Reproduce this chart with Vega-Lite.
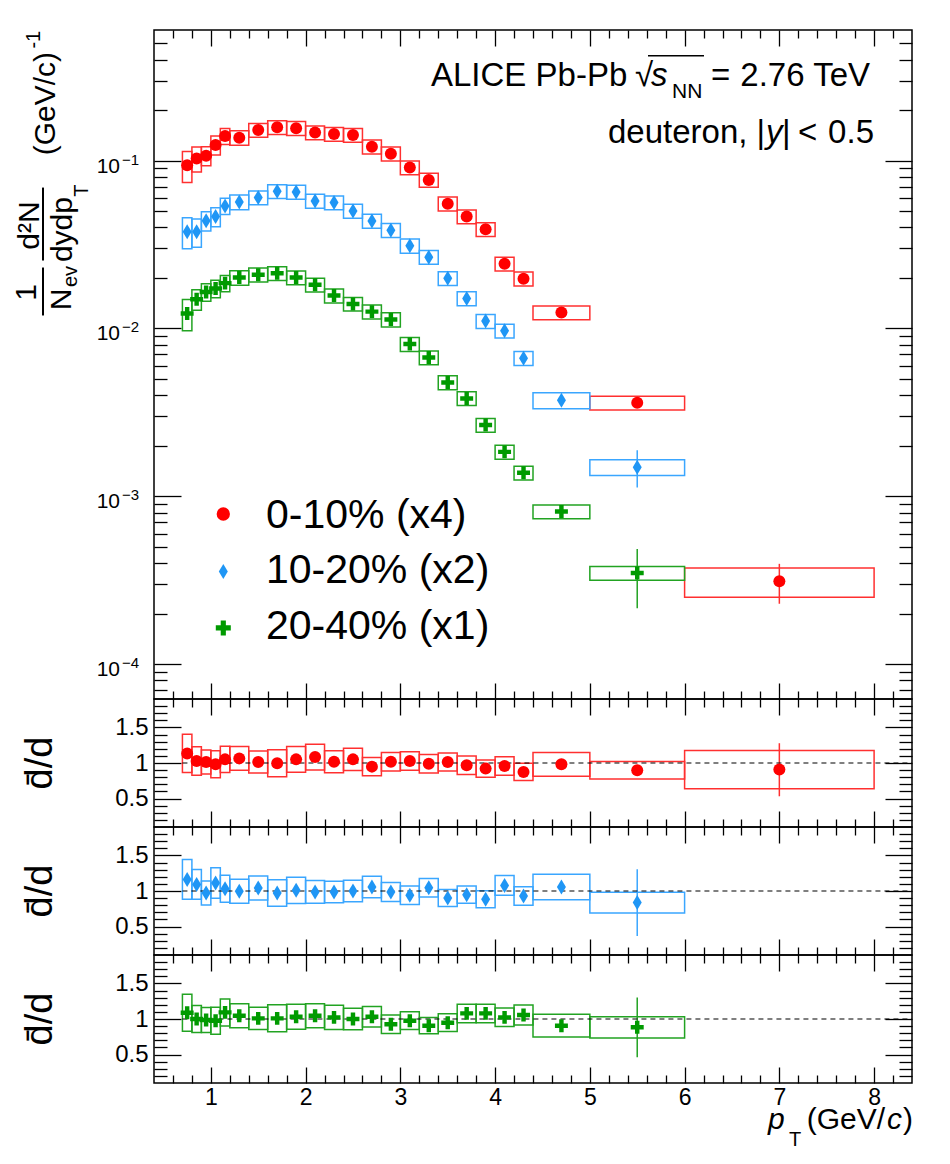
{
  "$schema": "https://vega.github.io/schema/vega-lite/v6.json",
  "background": "white",
  "padding": {"left": 11, "top": 28, "right": 5, "bottom": 5},
  "autosize": {"type": "pad"},
  "config": {
    "font": "Liberation Sans",
    "view": {"stroke": "black", "strokeWidth": 1.5},
    "axis": {"grid": false, "domain": false, "tickColor": "black", "tickWidth": 1.3, "labelColor": "black", "labelFont": "Liberation Sans", "zindex": 1},
    "text": {"font": "Liberation Sans", "color": "black"}
  },
  "datasets": {
    "decades": [
      {"v": 0.1, "e": "−1"},
      {"v": 0.01, "e": "−2"},
      {"v": 0.001, "e": "−3"},
      {"v": 0.0001, "e": "−4"}
    ],
    "spec": [
      {"c": "0-10% (x4)", "x": 0.75, "xl": 0.7, "xh": 0.8, "y": 0.0937, "yl": 0.0740, "yh": 0.1134},
      {"c": "0-10% (x4)", "x": 0.85, "xl": 0.8, "xh": 0.9, "y": 0.103, "yl": 0.0855, "yh": 0.1205},
      {"c": "0-10% (x4)", "x": 0.95, "xl": 0.9, "xh": 1.0, "y": 0.107, "yl": 0.0931, "yh": 0.1209},
      {"c": "0-10% (x4)", "x": 1.05, "xl": 1.0, "xh": 1.1, "y": 0.124, "yl": 0.1079, "yh": 0.1401},
      {"c": "0-10% (x4)", "x": 1.15, "xl": 1.1, "xh": 1.2, "y": 0.140, "yl": 0.1246, "yh": 0.1554},
      {"c": "0-10% (x4)", "x": 1.3, "xl": 1.2, "xh": 1.4, "y": 0.137, "yl": 0.1233, "yh": 0.1507},
      {"c": "0-10% (x4)", "x": 1.5, "xl": 1.4, "xh": 1.6, "y": 0.152, "yl": 0.1376, "yh": 0.1664},
      {"c": "0-10% (x4)", "x": 1.7, "xl": 1.6, "xh": 1.8, "y": 0.158, "yl": 0.1430, "yh": 0.1730},
      {"c": "0-10% (x4)", "x": 1.9, "xl": 1.8, "xh": 2.0, "y": 0.156, "yl": 0.1412, "yh": 0.1708},
      {"c": "0-10% (x4)", "x": 2.1, "xl": 2.0, "xh": 2.2, "y": 0.147, "yl": 0.1330, "yh": 0.1610},
      {"c": "0-10% (x4)", "x": 2.3, "xl": 2.2, "xh": 2.4, "y": 0.144, "yl": 0.1303, "yh": 0.1577},
      {"c": "0-10% (x4)", "x": 2.5, "xl": 2.4, "xh": 2.6, "y": 0.142, "yl": 0.1285, "yh": 0.1555},
      {"c": "0-10% (x4)", "x": 2.7, "xl": 2.6, "xh": 2.8, "y": 0.121, "yl": 0.1095, "yh": 0.1325},
      {"c": "0-10% (x4)", "x": 2.9, "xl": 2.8, "xh": 3.0, "y": 0.110, "yl": 0.0996, "yh": 0.1205},
      {"c": "0-10% (x4)", "x": 3.1, "xl": 3.0, "xh": 3.2, "y": 0.0909, "yl": 0.0823, "yh": 0.0995},
      {"c": "0-10% (x4)", "x": 3.3, "xl": 3.2, "xh": 3.4, "y": 0.0767, "yl": 0.0694, "yh": 0.0840},
      {"c": "0-10% (x4)", "x": 3.5, "xl": 3.4, "xh": 3.6, "y": 0.0554, "yl": 0.0501, "yh": 0.0607},
      {"c": "0-10% (x4)", "x": 3.7, "xl": 3.6, "xh": 3.8, "y": 0.0464, "yl": 0.0420, "yh": 0.0508},
      {"c": "0-10% (x4)", "x": 3.9, "xl": 3.8, "xh": 4.0, "y": 0.0390, "yl": 0.0353, "yh": 0.0427},
      {"c": "0-10% (x4)", "x": 4.1, "xl": 4.0, "xh": 4.2, "y": 0.0243, "yl": 0.0220, "yh": 0.0266},
      {"c": "0-10% (x4)", "x": 4.3, "xl": 4.2, "xh": 4.4, "y": 0.0198, "yl": 0.0179, "yh": 0.0217},
      {"c": "0-10% (x4)", "x": 4.7, "xl": 4.4, "xh": 5.0, "y": 0.01245, "yl": 0.01127, "yh": 0.01363},
      {"c": "0-10% (x4)", "x": 5.5, "xl": 5.0, "xh": 6.0, "y": 0.00361, "yl": 0.00327, "yh": 0.00395},
      {"c": "0-10% (x4)", "x": 7.0, "xl": 6.0, "xh": 8.0, "y": 0.000312, "yl": 0.000250, "yh": 0.000374},
      {"c": "10-20% (x2)", "x": 0.75, "xl": 0.7, "xh": 0.8, "y": 0.0377, "yl": 0.0298, "yh": 0.0456},
      {"c": "10-20% (x2)", "x": 0.85, "xl": 0.8, "xh": 0.9, "y": 0.0377, "yl": 0.0305, "yh": 0.0449},
      {"c": "10-20% (x2)", "x": 0.95, "xl": 0.9, "xh": 1.0, "y": 0.0438, "yl": 0.0381, "yh": 0.0495},
      {"c": "10-20% (x2)", "x": 1.05, "xl": 1.0, "xh": 1.1, "y": 0.0464, "yl": 0.0404, "yh": 0.0524},
      {"c": "10-20% (x2)", "x": 1.15, "xl": 1.1, "xh": 1.2, "y": 0.0537, "yl": 0.0478, "yh": 0.0596},
      {"c": "10-20% (x2)", "x": 1.3, "xl": 1.2, "xh": 1.4, "y": 0.0567, "yl": 0.0510, "yh": 0.0624},
      {"c": "10-20% (x2)", "x": 1.5, "xl": 1.4, "xh": 1.6, "y": 0.0602, "yl": 0.0545, "yh": 0.0659},
      {"c": "10-20% (x2)", "x": 1.7, "xl": 1.6, "xh": 1.8, "y": 0.0656, "yl": 0.0594, "yh": 0.0718},
      {"c": "10-20% (x2)", "x": 1.9, "xl": 1.8, "xh": 2.0, "y": 0.0651, "yl": 0.0589, "yh": 0.0713},
      {"c": "10-20% (x2)", "x": 2.1, "xl": 2.0, "xh": 2.2, "y": 0.0575, "yl": 0.0520, "yh": 0.0630},
      {"c": "10-20% (x2)", "x": 2.3, "xl": 2.2, "xh": 2.4, "y": 0.0562, "yl": 0.0509, "yh": 0.0615},
      {"c": "10-20% (x2)", "x": 2.5, "xl": 2.4, "xh": 2.6, "y": 0.0501, "yl": 0.0453, "yh": 0.0549},
      {"c": "10-20% (x2)", "x": 2.7, "xl": 2.6, "xh": 2.8, "y": 0.0437, "yl": 0.0395, "yh": 0.0479},
      {"c": "10-20% (x2)", "x": 2.9, "xl": 2.8, "xh": 3.0, "y": 0.0385, "yl": 0.0348, "yh": 0.0422},
      {"c": "10-20% (x2)", "x": 3.1, "xl": 3.0, "xh": 3.2, "y": 0.0311, "yl": 0.0281, "yh": 0.0341},
      {"c": "10-20% (x2)", "x": 3.3, "xl": 3.2, "xh": 3.4, "y": 0.0266, "yl": 0.0241, "yh": 0.0291},
      {"c": "10-20% (x2)", "x": 3.5, "xl": 3.4, "xh": 3.6, "y": 0.0199, "yl": 0.0180, "yh": 0.0218},
      {"c": "10-20% (x2)", "x": 3.7, "xl": 3.6, "xh": 3.8, "y": 0.0151, "yl": 0.01367, "yh": 0.01653},
      {"c": "10-20% (x2)", "x": 3.9, "xl": 3.8, "xh": 4.0, "y": 0.01106, "yl": 0.01001, "yh": 0.01211},
      {"c": "10-20% (x2)", "x": 4.1, "xl": 4.0, "xh": 4.2, "y": 0.00969, "yl": 0.00877, "yh": 0.01061},
      {"c": "10-20% (x2)", "x": 4.3, "xl": 4.2, "xh": 4.4, "y": 0.00665, "yl": 0.00602, "yh": 0.00728},
      {"c": "10-20% (x2)", "x": 4.7, "xl": 4.4, "xh": 5.0, "y": 0.00373, "yl": 0.00332, "yh": 0.00414},
      {"c": "10-20% (x2)", "x": 5.5, "xl": 5.0, "xh": 6.0, "y": 0.00149, "yl": 0.00133, "yh": 0.00165},
      {"c": "20-40% (x1)", "x": 0.75, "xl": 0.7, "xh": 0.8, "y": 0.01228, "yl": 0.00970, "yh": 0.01486},
      {"c": "20-40% (x1)", "x": 0.85, "xl": 0.8, "xh": 0.9, "y": 0.01493, "yl": 0.01284, "yh": 0.01702},
      {"c": "20-40% (x1)", "x": 0.95, "xl": 0.9, "xh": 1.0, "y": 0.01651, "yl": 0.01453, "yh": 0.01849},
      {"c": "20-40% (x1)", "x": 1.05, "xl": 1.0, "xh": 1.1, "y": 0.0173, "yl": 0.01522, "yh": 0.01938},
      {"c": "20-40% (x1)", "x": 1.15, "xl": 1.1, "xh": 1.2, "y": 0.01862, "yl": 0.01657, "yh": 0.02067},
      {"c": "20-40% (x1)", "x": 1.3, "xl": 1.2, "xh": 1.4, "y": 0.0201, "yl": 0.0181, "yh": 0.0221},
      {"c": "20-40% (x1)", "x": 1.5, "xl": 1.4, "xh": 1.6, "y": 0.0209, "yl": 0.0189, "yh": 0.0229},
      {"c": "20-40% (x1)", "x": 1.7, "xl": 1.6, "xh": 1.8, "y": 0.0213, "yl": 0.0193, "yh": 0.0233},
      {"c": "20-40% (x1)", "x": 1.9, "xl": 1.8, "xh": 2.0, "y": 0.0201, "yl": 0.0182, "yh": 0.0220},
      {"c": "20-40% (x1)", "x": 2.1, "xl": 2.0, "xh": 2.2, "y": 0.0182, "yl": 0.0165, "yh": 0.0199},
      {"c": "20-40% (x1)", "x": 2.3, "xl": 2.2, "xh": 2.4, "y": 0.0157, "yl": 0.0142, "yh": 0.0172},
      {"c": "20-40% (x1)", "x": 2.5, "xl": 2.4, "xh": 2.6, "y": 0.0140, "yl": 0.0127, "yh": 0.0153},
      {"c": "20-40% (x1)", "x": 2.7, "xl": 2.6, "xh": 2.8, "y": 0.0126, "yl": 0.0114, "yh": 0.0138},
      {"c": "20-40% (x1)", "x": 2.9, "xl": 2.8, "xh": 3.0, "y": 0.0113, "yl": 0.0102, "yh": 0.0124},
      {"c": "20-40% (x1)", "x": 3.1, "xl": 3.0, "xh": 3.2, "y": 0.00807, "yl": 0.00730, "yh": 0.00884},
      {"c": "20-40% (x1)", "x": 3.3, "xl": 3.2, "xh": 3.4, "y": 0.00671, "yl": 0.00607, "yh": 0.00735},
      {"c": "20-40% (x1)", "x": 3.5, "xl": 3.4, "xh": 3.6, "y": 0.00477, "yl": 0.00432, "yh": 0.00522},
      {"c": "20-40% (x1)", "x": 3.7, "xl": 3.6, "xh": 3.8, "y": 0.00383, "yl": 0.00347, "yh": 0.00419},
      {"c": "20-40% (x1)", "x": 3.9, "xl": 3.8, "xh": 4.0, "y": 0.00266, "yl": 0.00241, "yh": 0.00291},
      {"c": "20-40% (x1)", "x": 4.1, "xl": 4.0, "xh": 4.2, "y": 0.00184, "yl": 0.001665, "yh": 0.002015},
      {"c": "20-40% (x1)", "x": 4.3, "xl": 4.2, "xh": 4.4, "y": 0.00138, "yl": 0.00125, "yh": 0.00151},
      {"c": "20-40% (x1)", "x": 4.7, "xl": 4.4, "xh": 5.0, "y": 0.000811, "yl": 0.000734, "yh": 0.000888},
      {"c": "20-40% (x1)", "x": 5.5, "xl": 5.0, "xh": 6.0, "y": 0.000349, "yl": 0.000316, "yh": 0.000382}
    ],
    "stat": [
      {"c": "0-10% (x4)", "x": 7.0, "lo": 0.000229, "hi": 0.000396},
      {"c": "10-20% (x2)", "x": 5.5, "lo": 0.00113, "hi": 0.00188},
      {"c": "20-40% (x1)", "x": 5.5, "lo": 0.000215, "hi": 0.000485}
    ],
    "ratio": [
      {"c": "0-10% (x4)", "x": 0.75, "xl": 0.7, "xh": 0.8, "y": 1.135, "yl": 0.865, "yh": 1.405},
      {"c": "0-10% (x4)", "x": 0.85, "xl": 0.8, "xh": 0.9, "y": 1.028, "yl": 0.828, "yh": 1.228},
      {"c": "0-10% (x4)", "x": 0.95, "xl": 0.9, "xh": 1.0, "y": 1.014, "yl": 0.844, "yh": 1.184},
      {"c": "0-10% (x4)", "x": 1.05, "xl": 1.0, "xh": 1.1, "y": 0.981, "yl": 0.791, "yh": 1.171},
      {"c": "0-10% (x4)", "x": 1.15, "xl": 1.1, "xh": 1.2, "y": 1.051, "yl": 0.866, "yh": 1.236},
      {"c": "0-10% (x4)", "x": 1.3, "xl": 1.2, "xh": 1.4, "y": 1.065, "yl": 0.898, "yh": 1.232},
      {"c": "0-10% (x4)", "x": 1.5, "xl": 1.4, "xh": 1.6, "y": 1.014, "yl": 0.859, "yh": 1.169},
      {"c": "0-10% (x4)", "x": 1.7, "xl": 1.6, "xh": 1.8, "y": 0.995, "yl": 0.805, "yh": 1.185},
      {"c": "0-10% (x4)", "x": 1.9, "xl": 1.8, "xh": 2.0, "y": 1.051, "yl": 0.871, "yh": 1.231},
      {"c": "0-10% (x4)", "x": 2.1, "xl": 2.0, "xh": 2.2, "y": 1.083, "yl": 0.903, "yh": 1.263},
      {"c": "0-10% (x4)", "x": 2.3, "xl": 2.2, "xh": 2.4, "y": 1.019, "yl": 0.864, "yh": 1.174},
      {"c": "0-10% (x4)", "x": 2.5, "xl": 2.4, "xh": 2.6, "y": 1.051, "yl": 0.896, "yh": 1.206},
      {"c": "0-10% (x4)", "x": 2.7, "xl": 2.6, "xh": 2.8, "y": 0.949, "yl": 0.819, "yh": 1.079},
      {"c": "0-10% (x4)", "x": 2.9, "xl": 2.8, "xh": 3.0, "y": 1.019, "yl": 0.889, "yh": 1.149},
      {"c": "0-10% (x4)", "x": 3.1, "xl": 3.0, "xh": 3.2, "y": 1.028, "yl": 0.898, "yh": 1.158},
      {"c": "0-10% (x4)", "x": 3.3, "xl": 3.2, "xh": 3.4, "y": 0.991, "yl": 0.861, "yh": 1.121},
      {"c": "0-10% (x4)", "x": 3.5, "xl": 3.4, "xh": 3.6, "y": 1.014, "yl": 0.889, "yh": 1.139},
      {"c": "0-10% (x4)", "x": 3.7, "xl": 3.6, "xh": 3.8, "y": 0.968, "yl": 0.838, "yh": 1.098},
      {"c": "0-10% (x4)", "x": 3.9, "xl": 3.8, "xh": 4.0, "y": 0.921, "yl": 0.801, "yh": 1.041},
      {"c": "0-10% (x4)", "x": 4.1, "xl": 4.0, "xh": 4.2, "y": 0.958, "yl": 0.828, "yh": 1.088},
      {"c": "0-10% (x4)", "x": 4.3, "xl": 4.2, "xh": 4.4, "y": 0.875, "yl": 0.755, "yh": 0.995},
      {"c": "0-10% (x4)", "x": 4.7, "xl": 4.4, "xh": 5.0, "y": 0.981, "yl": 0.814, "yh": 1.148},
      {"c": "0-10% (x4)", "x": 5.5, "xl": 5.0, "xh": 6.0, "y": 0.898, "yl": 0.775, "yh": 1.021},
      {"c": "0-10% (x4)", "x": 7.0, "xl": 6.0, "xh": 8.0, "y": 0.907, "yl": 0.637, "yh": 1.177},
      {"c": "10-20% (x2)", "x": 0.75, "xl": 0.7, "xh": 0.8, "y": 1.163, "yl": 0.883, "yh": 1.443},
      {"c": "10-20% (x2)", "x": 0.85, "xl": 0.8, "xh": 0.9, "y": 1.093, "yl": 0.883, "yh": 1.303},
      {"c": "10-20% (x2)", "x": 0.95, "xl": 0.9, "xh": 1.0, "y": 0.972, "yl": 0.802, "yh": 1.142},
      {"c": "10-20% (x2)", "x": 1.05, "xl": 1.0, "xh": 1.1, "y": 1.112, "yl": 0.897, "yh": 1.327},
      {"c": "10-20% (x2)", "x": 1.15, "xl": 1.1, "xh": 1.2, "y": 1.032, "yl": 0.842, "yh": 1.222},
      {"c": "10-20% (x2)", "x": 1.3, "xl": 1.2, "xh": 1.4, "y": 0.996, "yl": 0.826, "yh": 1.166},
      {"c": "10-20% (x2)", "x": 1.5, "xl": 1.4, "xh": 1.6, "y": 1.042, "yl": 0.872, "yh": 1.212},
      {"c": "10-20% (x2)", "x": 1.7, "xl": 1.6, "xh": 1.8, "y": 0.972, "yl": 0.787, "yh": 1.157},
      {"c": "10-20% (x2)", "x": 1.9, "xl": 1.8, "xh": 2.0, "y": 1.009, "yl": 0.824, "yh": 1.194},
      {"c": "10-20% (x2)", "x": 2.1, "xl": 2.0, "xh": 2.2, "y": 0.986, "yl": 0.826, "yh": 1.146},
      {"c": "10-20% (x2)", "x": 2.3, "xl": 2.2, "xh": 2.4, "y": 0.986, "yl": 0.836, "yh": 1.136},
      {"c": "10-20% (x2)", "x": 2.5, "xl": 2.4, "xh": 2.6, "y": 1.0, "yl": 0.85, "yh": 1.15},
      {"c": "10-20% (x2)", "x": 2.7, "xl": 2.6, "xh": 2.8, "y": 1.056, "yl": 0.906, "yh": 1.206},
      {"c": "10-20% (x2)", "x": 2.9, "xl": 2.8, "xh": 3.0, "y": 0.986, "yl": 0.851, "yh": 1.121},
      {"c": "10-20% (x2)", "x": 3.1, "xl": 3.0, "xh": 3.2, "y": 0.940, "yl": 0.810, "yh": 1.070},
      {"c": "10-20% (x2)", "x": 3.3, "xl": 3.2, "xh": 3.4, "y": 1.046, "yl": 0.916, "yh": 1.176},
      {"c": "10-20% (x2)", "x": 3.5, "xl": 3.4, "xh": 3.6, "y": 0.902, "yl": 0.782, "yh": 1.022},
      {"c": "10-20% (x2)", "x": 3.7, "xl": 3.6, "xh": 3.8, "y": 0.949, "yl": 0.829, "yh": 1.069},
      {"c": "10-20% (x2)", "x": 3.9, "xl": 3.8, "xh": 4.0, "y": 0.884, "yl": 0.764, "yh": 1.004},
      {"c": "10-20% (x2)", "x": 4.1, "xl": 4.0, "xh": 4.2, "y": 1.079, "yl": 0.939, "yh": 1.219},
      {"c": "10-20% (x2)", "x": 4.3, "xl": 4.2, "xh": 4.4, "y": 0.930, "yl": 0.800, "yh": 1.060},
      {"c": "10-20% (x2)", "x": 4.7, "xl": 4.4, "xh": 5.0, "y": 1.056, "yl": 0.876, "yh": 1.236},
      {"c": "10-20% (x2)", "x": 5.5, "xl": 5.0, "xh": 6.0, "y": 0.837, "yl": 0.692, "yh": 0.982},
      {"c": "20-40% (x1)", "x": 0.75, "xl": 0.7, "xh": 0.8, "y": 1.088, "yl": 0.828, "yh": 1.348},
      {"c": "20-40% (x1)", "x": 0.85, "xl": 0.8, "xh": 0.9, "y": 1.0, "yl": 0.81, "yh": 1.19},
      {"c": "20-40% (x1)", "x": 0.95, "xl": 0.9, "xh": 1.0, "y": 0.986, "yl": 0.811, "yh": 1.161},
      {"c": "20-40% (x1)", "x": 1.05, "xl": 1.0, "xh": 1.1, "y": 0.976, "yl": 0.786, "yh": 1.166},
      {"c": "20-40% (x1)", "x": 1.15, "xl": 1.1, "xh": 1.2, "y": 1.093, "yl": 0.903, "yh": 1.283},
      {"c": "20-40% (x1)", "x": 1.3, "xl": 1.2, "xh": 1.4, "y": 1.046, "yl": 0.876, "yh": 1.216},
      {"c": "20-40% (x1)", "x": 1.5, "xl": 1.4, "xh": 1.6, "y": 1.009, "yl": 0.854, "yh": 1.164},
      {"c": "20-40% (x1)", "x": 1.7, "xl": 1.6, "xh": 1.8, "y": 1.009, "yl": 0.819, "yh": 1.199},
      {"c": "20-40% (x1)", "x": 1.9, "xl": 1.8, "xh": 2.0, "y": 1.032, "yl": 0.857, "yh": 1.207},
      {"c": "20-40% (x1)", "x": 2.1, "xl": 2.0, "xh": 2.2, "y": 1.046, "yl": 0.876, "yh": 1.216},
      {"c": "20-40% (x1)", "x": 2.3, "xl": 2.2, "xh": 2.4, "y": 1.023, "yl": 0.853, "yh": 1.193},
      {"c": "20-40% (x1)", "x": 2.5, "xl": 2.4, "xh": 2.6, "y": 1.0, "yl": 0.85, "yh": 1.15},
      {"c": "20-40% (x1)", "x": 2.7, "xl": 2.6, "xh": 2.8, "y": 1.032, "yl": 0.887, "yh": 1.177},
      {"c": "20-40% (x1)", "x": 2.9, "xl": 2.8, "xh": 3.0, "y": 0.925, "yl": 0.795, "yh": 1.055},
      {"c": "20-40% (x1)", "x": 3.1, "xl": 3.0, "xh": 3.2, "y": 0.976, "yl": 0.851, "yh": 1.101},
      {"c": "20-40% (x1)", "x": 3.3, "xl": 3.2, "xh": 3.4, "y": 0.906, "yl": 0.791, "yh": 1.021},
      {"c": "20-40% (x1)", "x": 3.5, "xl": 3.4, "xh": 3.6, "y": 0.948, "yl": 0.823, "yh": 1.073},
      {"c": "20-40% (x1)", "x": 3.7, "xl": 3.6, "xh": 3.8, "y": 1.079, "yl": 0.949, "yh": 1.209},
      {"c": "20-40% (x1)", "x": 3.9, "xl": 3.8, "xh": 4.0, "y": 1.079, "yl": 0.949, "yh": 1.209},
      {"c": "20-40% (x1)", "x": 4.1, "xl": 4.0, "xh": 4.2, "y": 1.023, "yl": 0.893, "yh": 1.153},
      {"c": "20-40% (x1)", "x": 4.3, "xl": 4.2, "xh": 4.4, "y": 1.056, "yl": 0.916, "yh": 1.196},
      {"c": "20-40% (x1)", "x": 4.7, "xl": 4.4, "xh": 5.0, "y": 0.906, "yl": 0.746, "yh": 1.066},
      {"c": "20-40% (x1)", "x": 5.5, "xl": 5.0, "xh": 6.0, "y": 0.883, "yl": 0.733, "yh": 1.033}
    ],
    "rstat": [
      {"c": "0-10% (x4)", "x": 7.0, "lo": 0.532, "hi": 1.278},
      {"c": "10-20% (x2)", "x": 5.5, "lo": 0.367, "hi": 1.307},
      {"c": "20-40% (x1)", "x": 5.5, "lo": 0.463, "hi": 1.303}
    ]
  },
  "vconcat": [
    {
      "width": 758,
      "height": 669,
      "resolve": {"axis": {"x": "independent", "y": "independent"}},
      "layer": [
        {
          "data": {"name": "spec"},
          "mark": {"type": "rect", "filled": false, "strokeWidth": 1.5},
          "encoding": {
            "x": {"field": "xl", "type": "quantitative", "scale": {"domain": [0.4, 8.4], "nice": false, "zero": false},
                  "axis": {"orient": "bottom", "values": [1, 2, 3, 4, 5, 6, 7, 8], "tickSize": -16, "labels": false, "title": null}},
            "x2": {"field": "xh"},
            "y": {"field": "yl", "type": "quantitative", "scale": {"type": "log", "domain": [0.000062, 0.6], "nice": false},
                  "axis": {"orient": "left", "values": [0.0001, 0.001, 0.01, 0.1], "tickSize": -27, "labels": false, "title": null}},
            "y2": {"field": "yh"},
            "stroke": {"field": "c", "type": "nominal", "scale": {"domain": ["0-10% (x4)", "10-20% (x2)", "20-40% (x1)"], "range": ["#ff3030", "#3aa6ff", "#22a322"]}, "legend": null}
          }
        },
        {
          "data": {"name": "stat"},
          "mark": {"type": "rule", "strokeWidth": 1.5},
          "encoding": {
            "x": {"field": "x", "type": "quantitative", "scale": {"domain": [0.4, 8.4], "nice": false, "zero": false},
                  "axis": {"orient": "bottom", "values": [0.6, 0.8, 1.2, 1.4, 1.6, 1.8, 2.2, 2.4, 2.6, 2.8, 3.2, 3.4, 3.6, 3.8, 4.2, 4.4, 4.6, 4.8, 5.2, 5.4, 5.6, 5.8, 6.2, 6.4, 6.6, 6.8, 7.2, 7.4, 7.6, 7.8, 8.2], "tickSize": -8, "labels": false, "title": null}},
            "y": {"field": "lo", "type": "quantitative", "scale": {"type": "log", "domain": [0.000062, 0.6], "nice": false},
                  "axis": {"orient": "left", "values": [0.00007, 0.00008, 0.00009, 0.0002, 0.0003, 0.0004, 0.0005, 0.0006, 0.0007, 0.0008, 0.0009, 0.002, 0.003, 0.004, 0.005, 0.006, 0.007, 0.008, 0.009, 0.02, 0.03, 0.04, 0.05, 0.06, 0.07, 0.08, 0.09, 0.2, 0.3, 0.4, 0.5], "tickSize": -13, "labels": false, "title": null}},
            "y2": {"field": "hi"},
            "stroke": {"field": "c", "type": "nominal", "scale": {"domain": ["0-10% (x4)", "10-20% (x2)", "20-40% (x1)"], "range": ["#ff3030", "#3aa6ff", "#22a322"]}, "legend": null}
          }
        },
        {
          "data": {"name": "spec"},
          "mark": {"type": "point", "filled": true, "opacity": 1, "size": 144, "strokeWidth": 0},
          "encoding": {
            "x": {"field": "x", "type": "quantitative", "scale": {"domain": [0.4, 8.4], "nice": false, "zero": false},
                  "axis": {"orient": "top", "values": [1, 2, 3, 4, 5, 6, 7, 8], "tickSize": -16, "labels": false, "title": null}},
            "y": {"field": "y", "type": "quantitative", "scale": {"type": "log", "domain": [0.000062, 0.6], "nice": false},
                  "axis": {"orient": "right", "values": [0.0001, 0.001, 0.01, 0.1], "tickSize": -27, "labels": false, "title": null}},
            "color": {"field": "c", "type": "nominal", "scale": {"domain": ["0-10% (x4)", "10-20% (x2)", "20-40% (x1)"], "range": ["#ff0000", "#1f96f5", "#009a00"]}, "legend": null},
            "shape": {"field": "c", "type": "nominal", "scale": {"domain": ["0-10% (x4)", "10-20% (x2)", "20-40% (x1)"], "range": ["circle", "M0,-1.25L0.75,0L0,1.25L-0.75,0Z", "M-0.37,-1.08H0.37V-0.37H1.08V0.37H0.37V1.08H-0.37V0.37H-1.08V-0.37H-0.37Z"]}, "legend": null}
          }
        },
        {
          "data": {"values": [{}]},
          "mark": {"type": "rule", "strokeWidth": 2, "color": "black"},
          "encoding": {
            "x": {"datum": -0.7715, "type": "quantitative", "scale": {"domain": [0.4, 8.4], "nice": false, "zero": false},
                  "axis": {"orient": "top", "values": [0.6, 0.8, 1.2, 1.4, 1.6, 1.8, 2.2, 2.4, 2.6, 2.8, 3.2, 3.4, 3.6, 3.8, 4.2, 4.4, 4.6, 4.8, 5.2, 5.4, 5.6, 5.8, 6.2, 6.4, 6.6, 6.8, 7.2, 7.4, 7.6, 7.8, 8.2], "tickSize": -8, "labels": false, "title": null}},
            "y": {"datum": 0.023069, "type": "quantitative", "scale": {"type": "log", "domain": [0.000062, 0.6], "nice": false},
                  "axis": {"orient": "right", "values": [0.00007, 0.00008, 0.00009, 0.0002, 0.0003, 0.0004, 0.0005, 0.0006, 0.0007, 0.0008, 0.0009, 0.002, 0.003, 0.004, 0.005, 0.006, 0.007, 0.008, 0.009, 0.02, 0.03, 0.04, 0.05, 0.06, 0.07, 0.08, 0.09, 0.2, 0.3, 0.4, 0.5], "tickSize": -13, "labels": false, "title": null}},
            "y2": {"datum": 0.01195}
          }
        },
        {
          "data": {"values": [{}]},
          "mark": {"type": "rule", "strokeWidth": 2, "color": "black"},
          "encoding": {
            "x": {"datum": -0.7715, "type": "quantitative", "axis": null},
            "y": {"datum": 0.069082, "type": "quantitative", "axis": null},
            "y2": {"datum": 0.0254}
          }
        },
        {
          "data": {"values": [{}]},
          "mark": {"type": "rule", "strokeWidth": 1.5, "color": "black"},
          "encoding": {
            "x": {"datum": 5.6137, "type": "quantitative", "axis": null},
            "x2": {"datum": 6.2047},
            "y": {"datum": 0.4217, "type": "quantitative", "axis": null}
          }
        },
        {"data": {"name": "decades"}, "mark": {"type": "text", "text": "10", "fontSize": 21, "align": "right", "baseline": "alphabetic", "dy": 12},
         "encoding": {"x": {"datum": 0.0412, "type": "quantitative", "axis": null}, "y": {"field": "v", "type": "quantitative", "axis": null}}},
        {"data": {"name": "decades"}, "mark": {"type": "text", "fontSize": 15, "align": "left", "baseline": "alphabetic", "dy": 4},
         "encoding": {"x": {"datum": 0.0623, "type": "quantitative", "axis": null}, "y": {"field": "v", "type": "quantitative", "axis": null}, "text": {"field": "e"}}},
        {"data": {"values": [{}]}, "mark": {"type": "point", "filled": true, "opacity": 1, "size": 177, "strokeWidth": 0, "shape": "circle", "color": "#ff0000"},
         "encoding": {"x": {"datum": 1.1314, "type": "quantitative", "axis": null}, "y": {"datum": 0.0007844, "type": "quantitative", "axis": null}}},
        {"data": {"values": [{}]}, "mark": {"type": "point", "filled": true, "opacity": 1, "size": 144, "strokeWidth": 0, "shape": "M0,-1.25L0.75,0L0,1.25L-0.75,0Z", "color": "#1f96f5"},
         "encoding": {"x": {"datum": 1.1314, "type": "quantitative", "axis": null}, "y": {"datum": 0.0003563, "type": "quantitative", "axis": null}}},
        {"data": {"values": [{}]}, "mark": {"type": "point", "filled": true, "opacity": 1, "size": 193, "strokeWidth": 0, "shape": "M-0.37,-1.08H0.37V-0.37H1.08V0.37H0.37V1.08H-0.37V0.37H-1.08V-0.37H-0.37Z", "color": "#009a00"},
         "encoding": {"x": {"datum": 1.1314, "type": "quantitative", "axis": null}, "y": {"datum": 0.00016447, "type": "quantitative", "axis": null}}},
        {"data": {"values": [{}]}, "mark": {"type": "text", "text": "0-10% (x4)", "fontSize": 41, "align": "left", "baseline": "alphabetic"},
         "encoding": {"x": {"datum": 1.582, "type": "quantitative", "axis": null}, "y": {"datum": 0.000645, "type": "quantitative", "axis": null}}},
        {"data": {"values": [{}]}, "mark": {"type": "text", "text": "10-20% (x2)", "fontSize": 41, "align": "left", "baseline": "alphabetic"},
         "encoding": {"x": {"datum": 1.582, "type": "quantitative", "axis": null}, "y": {"datum": 0.0003034, "type": "quantitative", "axis": null}}},
        {"data": {"values": [{}]}, "mark": {"type": "text", "text": "20-40% (x1)", "fontSize": 41, "align": "left", "baseline": "alphabetic"},
         "encoding": {"x": {"datum": 1.582, "type": "quantitative", "axis": null}, "y": {"datum": 0.00014084, "type": "quantitative", "axis": null}}},
        {"data": {"values": [{}]}, "mark": {"type": "text", "text": "1", "fontSize": 30, "angle": 270, "align": "center", "baseline": "middle"},
         "encoding": {"x": {"datum": -0.9404, "type": "quantitative", "axis": null}, "y": {"datum": 0.016379, "type": "quantitative", "axis": null}}},
        {"data": {"values": [{}]}, "mark": {"type": "text", "text": "N", "fontSize": 30, "angle": 270, "align": "center", "baseline": "middle"},
         "encoding": {"x": {"datum": -0.571, "type": "quantitative", "axis": null}, "y": {"datum": 0.014881, "type": "quantitative", "axis": null}}},
        {"data": {"values": [{}]}, "mark": {"type": "text", "text": "ev", "fontSize": 20, "angle": 270, "align": "center", "baseline": "middle"},
         "encoding": {"x": {"datum": -0.476, "type": "quantitative", "axis": null}, "y": {"datum": 0.020395, "type": "quantitative", "axis": null}}},
        {"data": {"values": [{}]}, "mark": {"type": "text", "text": "d²N", "fontSize": 30, "angle": 270, "align": "center", "baseline": "middle"},
         "encoding": {"x": {"datum": -0.9087, "type": "quantitative", "axis": null}, "y": {"datum": 0.04102, "type": "quantitative", "axis": null}}},
        {"data": {"values": [{}]}, "mark": {"type": "text", "text": "dydp", "fontSize": 30, "angle": 270, "align": "center", "baseline": "middle"},
         "encoding": {"x": {"datum": -0.5604, "type": "quantitative", "axis": null}, "y": {"datum": 0.038838, "type": "quantitative", "axis": null}}},
        {"data": {"values": [{}]}, "mark": {"type": "text", "text": "T", "fontSize": 20, "angle": 270, "align": "center", "baseline": "middle"},
         "encoding": {"x": {"datum": -0.3599, "type": "quantitative", "axis": null}, "y": {"datum": 0.066289, "type": "quantitative", "axis": null}}},
        {"data": {"values": [{}]}, "mark": {"type": "text", "text": "(GeV/c)", "fontSize": 30, "angle": 270, "align": "center", "baseline": "middle"},
         "encoding": {"x": {"datum": -0.7398, "type": "quantitative", "axis": null}, "y": {"datum": 0.2184, "type": "quantitative", "axis": null}}},
        {"data": {"values": [{}]}, "mark": {"type": "text", "text": "-1", "fontSize": 20, "angle": 270, "align": "center", "baseline": "middle"},
         "encoding": {"x": {"datum": -0.8665, "type": "quantitative", "axis": null}, "y": {"datum": 0.52514, "type": "quantitative", "axis": null}}},
        {"data": {"values": [{}]}, "mark": {"type": "text", "text": "ALICE Pb-Pb", "fontSize": 33, "align": "left", "baseline": "alphabetic"},
         "encoding": {"x": {"datum": 3.3235, "type": "quantitative", "axis": null}, "y": {"datum": 0.27956, "type": "quantitative", "axis": null}}},
        {"data": {"values": [{}]}, "mark": {"type": "text", "text": "√", "fontSize": 33, "align": "left", "baseline": "alphabetic"},
         "encoding": {"x": {"datum": 5.4765, "type": "quantitative", "axis": null}, "y": {"datum": 0.27956, "type": "quantitative", "axis": null}}},
        {"data": {"values": [{}]}, "mark": {"type": "text", "text": "s", "fontSize": 33, "fontStyle": "italic", "align": "left", "baseline": "alphabetic"},
         "encoding": {"x": {"datum": 5.6454, "type": "quantitative", "axis": null}, "y": {"datum": 0.27956, "type": "quantitative", "axis": null}}},
        {"data": {"values": [{}]}, "mark": {"type": "text", "text": "NN", "fontSize": 21, "align": "left", "baseline": "alphabetic"},
         "encoding": {"x": {"datum": 5.867, "type": "quantitative", "axis": null}, "y": {"datum": 0.23714, "type": "quantitative", "axis": null}}},
        {"data": {"values": [{}]}, "mark": {"type": "text", "text": "=", "fontSize": 33, "align": "left", "baseline": "alphabetic"},
         "encoding": {"x": {"datum": 6.2786, "type": "quantitative", "axis": null}, "y": {"datum": 0.27956, "type": "quantitative", "axis": null}}},
        {"data": {"values": [{}]}, "mark": {"type": "text", "text": "2.76 TeV", "fontSize": 33, "align": "right", "baseline": "alphabetic"},
         "encoding": {"x": {"datum": 7.9567, "type": "quantitative", "axis": null}, "y": {"datum": 0.27956, "type": "quantitative", "axis": null}}},
        {"data": {"values": [{}]}, "mark": {"type": "text", "text": "deuteron, |", "fontSize": 33, "align": "left", "baseline": "alphabetic"},
         "encoding": {"x": {"datum": 5.1916, "type": "quantitative", "axis": null}, "y": {"datum": 0.12796, "type": "quantitative", "axis": null}}},
        {"data": {"values": [{}]}, "mark": {"type": "text", "text": "y", "fontSize": 33, "fontStyle": "italic", "align": "left", "baseline": "alphabetic"},
         "encoding": {"x": {"datum": 6.8591, "type": "quantitative", "axis": null}, "y": {"datum": 0.12796, "type": "quantitative", "axis": null}}},
        {"data": {"values": [{}]}, "mark": {"type": "text", "text": "|", "fontSize": 33, "align": "left", "baseline": "alphabetic"},
         "encoding": {"x": {"datum": 7.028, "type": "quantitative", "axis": null}, "y": {"datum": 0.12796, "type": "quantitative", "axis": null}}},
        {"data": {"values": [{}]}, "mark": {"type": "text", "text": "<", "fontSize": 33, "align": "left", "baseline": "alphabetic"},
         "encoding": {"x": {"datum": 7.1969, "type": "quantitative", "axis": null}, "y": {"datum": 0.12796, "type": "quantitative", "axis": null}}},
        {"data": {"values": [{}]}, "mark": {"type": "text", "text": "0.5", "fontSize": 33, "align": "right", "baseline": "alphabetic"},
         "encoding": {"x": {"datum": 7.9989, "type": "quantitative", "axis": null}, "y": {"datum": 0.12796, "type": "quantitative", "axis": null}}}
      ]
    },
    {
      "width": 758,
      "height": 128,
      "resolve": {"axis": {"x": "independent", "y": "independent"}},
      "layer": [
        {
          "data": {"name": "ratio"},
          "transform": [{"filter": "datum.c == '0-10% (x4)'"}],
          "mark": {"type": "rect", "filled": false, "strokeWidth": 1.5, "stroke": "#ff3030"},
          "encoding": {
            "x": {"field": "xl", "type": "quantitative", "scale": {"domain": [0.4, 8.4], "nice": false, "zero": false},
                  "axis": {"orient": "bottom", "values": [1, 2, 3, 4, 5, 6, 7, 8], "tickSize": -16, "labels": false, "title": null}},
            "x2": {"field": "xh"},
            "y": {"field": "yl", "type": "quantitative", "scale": {"domain": [0.1, 1.9], "nice": false, "zero": false},
                  "axis": {"orient": "left", "values": [0.5, 1, 1.5], "tickSize": -27, "labelPadding": 33, "labelFontSize": 24, "format": "~g", "title": null}},
            "y2": {"field": "yh"}
          }
        },
        {
          "data": {"name": "rstat"},
          "transform": [{"filter": "datum.c == '0-10% (x4)'"}],
          "mark": {"type": "rule", "strokeWidth": 1.5, "color": "#ff3030"},
          "encoding": {
            "x": {"field": "x", "type": "quantitative", "scale": {"domain": [0.4, 8.4], "nice": false, "zero": false},
                  "axis": {"orient": "bottom", "values": [0.6, 0.8, 1.2, 1.4, 1.6, 1.8, 2.2, 2.4, 2.6, 2.8, 3.2, 3.4, 3.6, 3.8, 4.2, 4.4, 4.6, 4.8, 5.2, 5.4, 5.6, 5.8, 6.2, 6.4, 6.6, 6.8, 7.2, 7.4, 7.6, 7.8, 8.2], "tickSize": -8, "labels": false, "title": null}},
            "y": {"field": "lo", "type": "quantitative", "scale": {"domain": [0.1, 1.9], "nice": false, "zero": false},
                  "axis": {"orient": "left", "values": [0.2, 0.3, 0.4, 0.6, 0.7, 0.8, 0.9, 1.1, 1.2, 1.3, 1.4, 1.6, 1.7, 1.8], "tickSize": -13, "labels": false, "title": null}},
            "y2": {"field": "hi"}
          }
        },
        {
          "data": {"values": [{}]},
          "mark": {"type": "rule", "strokeDash": [5, 4], "strokeWidth": 1.2, "color": "black"},
          "encoding": {
            "x": {"datum": 0.7, "type": "quantitative", "scale": {"domain": [0.4, 8.4], "nice": false, "zero": false},
                  "axis": {"orient": "top", "values": [0.6, 0.8, 1.2, 1.4, 1.6, 1.8, 2.2, 2.4, 2.6, 2.8, 3.2, 3.4, 3.6, 3.8, 4.2, 4.4, 4.6, 4.8, 5.2, 5.4, 5.6, 5.8, 6.2, 6.4, 6.6, 6.8, 7.2, 7.4, 7.6, 7.8, 8.2], "tickSize": -8, "labels": false, "title": null}},
            "x2": {"datum": 8.4},
            "y": {"datum": 1, "type": "quantitative", "scale": {"domain": [0.1, 1.9], "nice": false, "zero": false},
                  "axis": {"orient": "right", "values": [0.2, 0.3, 0.4, 0.6, 0.7, 0.8, 0.9, 1.1, 1.2, 1.3, 1.4, 1.6, 1.7, 1.8], "tickSize": -13, "labels": false, "title": null}}
          }
        },
        {
          "data": {"name": "ratio"},
          "transform": [{"filter": "datum.c == '0-10% (x4)'"}],
          "mark": {"type": "point", "filled": true, "opacity": 1, "size": 144, "strokeWidth": 0, "shape": "circle", "color": "#ff0000"},
          "encoding": {
            "x": {"field": "x", "type": "quantitative", "scale": {"domain": [0.4, 8.4], "nice": false, "zero": false},
                  "axis": {"orient": "top", "values": [1, 2, 3, 4, 5, 6, 7, 8], "tickSize": -16, "labels": false, "title": null}},
            "y": {"field": "y", "type": "quantitative", "scale": {"domain": [0.1, 1.9], "nice": false, "zero": false},
                  "axis": {"orient": "right", "values": [0.5, 1, 1.5], "tickSize": -27, "labels": false, "title": null}}
          }
        },
        {"data": {"values": [{}]}, "mark": {"type": "text", "text": "d̄/d", "fontSize": 38, "angle": 270, "align": "center", "baseline": "middle"},
         "encoding": {"x": {"datum": -0.7926, "type": "quantitative", "axis": null}, "y": {"datum": 1, "type": "quantitative", "axis": null}}}
      ]
    },
    {
      "width": 758,
      "height": 128,
      "resolve": {"axis": {"x": "independent", "y": "independent"}},
      "layer": [
        {
          "data": {"name": "ratio"},
          "transform": [{"filter": "datum.c == '10-20% (x2)'"}],
          "mark": {"type": "rect", "filled": false, "strokeWidth": 1.5, "stroke": "#3aa6ff"},
          "encoding": {
            "x": {"field": "xl", "type": "quantitative", "scale": {"domain": [0.4, 8.4], "nice": false, "zero": false},
                  "axis": {"orient": "bottom", "values": [1, 2, 3, 4, 5, 6, 7, 8], "tickSize": -16, "labels": false, "title": null}},
            "x2": {"field": "xh"},
            "y": {"field": "yl", "type": "quantitative", "scale": {"domain": [0.1, 1.9], "nice": false, "zero": false},
                  "axis": {"orient": "left", "values": [0.5, 1, 1.5], "tickSize": -27, "labelPadding": 33, "labelFontSize": 24, "format": "~g", "title": null}},
            "y2": {"field": "yh"}
          }
        },
        {
          "data": {"name": "rstat"},
          "transform": [{"filter": "datum.c == '10-20% (x2)'"}],
          "mark": {"type": "rule", "strokeWidth": 1.5, "color": "#3aa6ff"},
          "encoding": {
            "x": {"field": "x", "type": "quantitative", "scale": {"domain": [0.4, 8.4], "nice": false, "zero": false},
                  "axis": {"orient": "bottom", "values": [0.6, 0.8, 1.2, 1.4, 1.6, 1.8, 2.2, 2.4, 2.6, 2.8, 3.2, 3.4, 3.6, 3.8, 4.2, 4.4, 4.6, 4.8, 5.2, 5.4, 5.6, 5.8, 6.2, 6.4, 6.6, 6.8, 7.2, 7.4, 7.6, 7.8, 8.2], "tickSize": -8, "labels": false, "title": null}},
            "y": {"field": "lo", "type": "quantitative", "scale": {"domain": [0.1, 1.9], "nice": false, "zero": false},
                  "axis": {"orient": "left", "values": [0.2, 0.3, 0.4, 0.6, 0.7, 0.8, 0.9, 1.1, 1.2, 1.3, 1.4, 1.6, 1.7, 1.8], "tickSize": -13, "labels": false, "title": null}},
            "y2": {"field": "hi"}
          }
        },
        {
          "data": {"values": [{}]},
          "mark": {"type": "rule", "strokeDash": [5, 4], "strokeWidth": 1.2, "color": "black"},
          "encoding": {
            "x": {"datum": 0.7, "type": "quantitative", "scale": {"domain": [0.4, 8.4], "nice": false, "zero": false},
                  "axis": {"orient": "top", "values": [0.6, 0.8, 1.2, 1.4, 1.6, 1.8, 2.2, 2.4, 2.6, 2.8, 3.2, 3.4, 3.6, 3.8, 4.2, 4.4, 4.6, 4.8, 5.2, 5.4, 5.6, 5.8, 6.2, 6.4, 6.6, 6.8, 7.2, 7.4, 7.6, 7.8, 8.2], "tickSize": -8, "labels": false, "title": null}},
            "x2": {"datum": 8.4},
            "y": {"datum": 1, "type": "quantitative", "scale": {"domain": [0.1, 1.9], "nice": false, "zero": false},
                  "axis": {"orient": "right", "values": [0.2, 0.3, 0.4, 0.6, 0.7, 0.8, 0.9, 1.1, 1.2, 1.3, 1.4, 1.6, 1.7, 1.8], "tickSize": -13, "labels": false, "title": null}}
          }
        },
        {
          "data": {"name": "ratio"},
          "transform": [{"filter": "datum.c == '10-20% (x2)'"}],
          "mark": {"type": "point", "filled": true, "opacity": 1, "size": 144, "strokeWidth": 0, "shape": "M0,-1.25L0.75,0L0,1.25L-0.75,0Z", "color": "#1f96f5"},
          "encoding": {
            "x": {"field": "x", "type": "quantitative", "scale": {"domain": [0.4, 8.4], "nice": false, "zero": false},
                  "axis": {"orient": "top", "values": [1, 2, 3, 4, 5, 6, 7, 8], "tickSize": -16, "labels": false, "title": null}},
            "y": {"field": "y", "type": "quantitative", "scale": {"domain": [0.1, 1.9], "nice": false, "zero": false},
                  "axis": {"orient": "right", "values": [0.5, 1, 1.5], "tickSize": -27, "labels": false, "title": null}}
          }
        },
        {"data": {"values": [{}]}, "mark": {"type": "text", "text": "d̄/d", "fontSize": 38, "angle": 270, "align": "center", "baseline": "middle"},
         "encoding": {"x": {"datum": -0.7926, "type": "quantitative", "axis": null}, "y": {"datum": 1, "type": "quantitative", "axis": null}}}
      ]
    },
    {
      "width": 758,
      "height": 128,
      "resolve": {"axis": {"x": "independent", "y": "independent"}},
      "layer": [
        {
          "data": {"name": "ratio"},
          "transform": [{"filter": "datum.c == '20-40% (x1)'"}],
          "mark": {"type": "rect", "filled": false, "strokeWidth": 1.5, "stroke": "#22a322"},
          "encoding": {
            "x": {"field": "xl", "type": "quantitative", "scale": {"domain": [0.4, 8.4], "nice": false, "zero": false},
                  "axis": {"orient": "bottom", "values": [1, 2, 3, 4, 5, 6, 7, 8], "tickSize": -16, "labels": true, "labelPadding": 19, "labelFontSize": 23, "format": "d", "title": null}},
            "x2": {"field": "xh"},
            "y": {"field": "yl", "type": "quantitative", "scale": {"domain": [0.1, 1.9], "nice": false, "zero": false},
                  "axis": {"orient": "left", "values": [0.5, 1, 1.5], "tickSize": -27, "labelPadding": 33, "labelFontSize": 24, "format": "~g", "title": null}},
            "y2": {"field": "yh"}
          }
        },
        {
          "data": {"name": "rstat"},
          "transform": [{"filter": "datum.c == '20-40% (x1)'"}],
          "mark": {"type": "rule", "strokeWidth": 1.5, "color": "#22a322"},
          "encoding": {
            "x": {"field": "x", "type": "quantitative", "scale": {"domain": [0.4, 8.4], "nice": false, "zero": false},
                  "axis": {"orient": "bottom", "values": [0.6, 0.8, 1.2, 1.4, 1.6, 1.8, 2.2, 2.4, 2.6, 2.8, 3.2, 3.4, 3.6, 3.8, 4.2, 4.4, 4.6, 4.8, 5.2, 5.4, 5.6, 5.8, 6.2, 6.4, 6.6, 6.8, 7.2, 7.4, 7.6, 7.8, 8.2], "tickSize": -8, "labels": false, "title": null}},
            "y": {"field": "lo", "type": "quantitative", "scale": {"domain": [0.1, 1.9], "nice": false, "zero": false},
                  "axis": {"orient": "left", "values": [0.2, 0.3, 0.4, 0.6, 0.7, 0.8, 0.9, 1.1, 1.2, 1.3, 1.4, 1.6, 1.7, 1.8], "tickSize": -13, "labels": false, "title": null}},
            "y2": {"field": "hi"}
          }
        },
        {
          "data": {"values": [{}]},
          "mark": {"type": "rule", "strokeDash": [5, 4], "strokeWidth": 1.2, "color": "black"},
          "encoding": {
            "x": {"datum": 0.7, "type": "quantitative", "scale": {"domain": [0.4, 8.4], "nice": false, "zero": false},
                  "axis": {"orient": "top", "values": [0.6, 0.8, 1.2, 1.4, 1.6, 1.8, 2.2, 2.4, 2.6, 2.8, 3.2, 3.4, 3.6, 3.8, 4.2, 4.4, 4.6, 4.8, 5.2, 5.4, 5.6, 5.8, 6.2, 6.4, 6.6, 6.8, 7.2, 7.4, 7.6, 7.8, 8.2], "tickSize": -8, "labels": false, "title": null}},
            "x2": {"datum": 8.4},
            "y": {"datum": 1, "type": "quantitative", "scale": {"domain": [0.1, 1.9], "nice": false, "zero": false},
                  "axis": {"orient": "right", "values": [0.2, 0.3, 0.4, 0.6, 0.7, 0.8, 0.9, 1.1, 1.2, 1.3, 1.4, 1.6, 1.7, 1.8], "tickSize": -13, "labels": false, "title": null}}
          }
        },
        {
          "data": {"name": "ratio"},
          "transform": [{"filter": "datum.c == '20-40% (x1)'"}],
          "mark": {"type": "point", "filled": true, "opacity": 1, "size": 144, "strokeWidth": 0, "shape": "M-0.37,-1.08H0.37V-0.37H1.08V0.37H0.37V1.08H-0.37V0.37H-1.08V-0.37H-0.37Z", "color": "#009a00"},
          "encoding": {
            "x": {"field": "x", "type": "quantitative", "scale": {"domain": [0.4, 8.4], "nice": false, "zero": false},
                  "axis": {"orient": "top", "values": [1, 2, 3, 4, 5, 6, 7, 8], "tickSize": -16, "labels": false, "title": null}},
            "y": {"field": "y", "type": "quantitative", "scale": {"domain": [0.1, 1.9], "nice": false, "zero": false},
                  "axis": {"orient": "right", "values": [0.5, 1, 1.5], "tickSize": -27, "labels": false, "title": null}}
          }
        },
        {"data": {"values": [{}]}, "mark": {"type": "text", "text": "d̄/d", "fontSize": 38, "angle": 270, "align": "center", "baseline": "middle"},
         "encoding": {"x": {"datum": -0.7926, "type": "quantitative", "axis": null}, "y": {"datum": 1, "type": "quantitative", "axis": null}}},
        {"data": {"values": [{}]}, "mark": {"type": "text", "text": "p", "fontSize": 30, "fontStyle": "italic", "align": "left", "baseline": "alphabetic"},
         "encoding": {"x": {"datum": 6.8803, "type": "quantitative", "axis": null}, "y": {"datum": -0.547, "type": "quantitative", "axis": null}}},
        {"data": {"values": [{}]}, "mark": {"type": "text", "text": "T", "fontSize": 20, "align": "left", "baseline": "alphabetic"},
         "encoding": {"x": {"datum": 7.1019, "type": "quantitative", "axis": null}, "y": {"datum": -0.786, "type": "quantitative", "axis": null}}},
        {"data": {"values": [{}]}, "mark": {"type": "text", "text": "(GeV/", "fontSize": 30, "align": "right", "baseline": "alphabetic"},
         "encoding": {"x": {"datum": 8.115, "type": "quantitative", "axis": null}, "y": {"datum": -0.547, "type": "quantitative", "axis": null}}},
        {"data": {"values": [{}]}, "mark": {"type": "text", "text": "c", "fontSize": 30, "fontStyle": "italic", "align": "right", "baseline": "alphabetic"},
         "encoding": {"x": {"datum": 8.2945, "type": "quantitative", "axis": null}, "y": {"datum": -0.547, "type": "quantitative", "axis": null}}},
        {"data": {"values": [{}]}, "mark": {"type": "text", "text": ")", "fontSize": 30, "align": "right", "baseline": "alphabetic"},
         "encoding": {"x": {"datum": 8.4105, "type": "quantitative", "axis": null}, "y": {"datum": -0.547, "type": "quantitative", "axis": null}}}
      ]
    }
  ],
  "spacing": 0,
  "bounds": "flush"
}
